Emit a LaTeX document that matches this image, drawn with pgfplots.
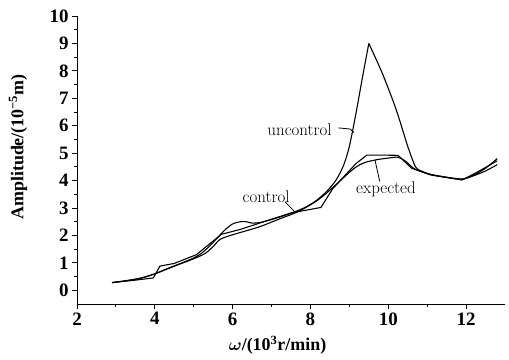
\documentclass[border=0pt]{standalone}
\usepackage{pgfplots}
\pgfplotsset{compat=1.18}
\usepackage{fontspec}
\newfontfamily\timesfont{Liberation Serif}
\begin{document}
\begin{tikzpicture}[x=1bp,y=1bp]
\path[use as bounding box] (-77,-55) rectangle (432,304);
\begin{axis}[
  at={(0,0)}, anchor=south west,
  scale only axis, width=428bp, height=288bp,
  xmin=2, xmax=13, ymin=-0.5, ymax=10,
  axis x line*=bottom, axis y line*=left,
  axis line style={-, line width=0.9pt},
  xtick={2,4,...,12}, ytick={0,1,...,10},
  minor x tick num=1, minor y tick num=1,
  tick align=outside, major tick length=5bp, minor tick length=3bp,
  tick style={black, line width=0.9pt},
  /pgf/number format/assume math mode=true,
  ticklabel style={font=\fontsize{19}{19}\selectfont\timesfont\bfseries},
  xlabel={{\boldmath$\omega$}/(10\textsuperscript{3}r/min)},
  ylabel={Amplitude/(10\textsuperscript{−5}m)},
  label style={font=\fontsize{18}{18}\selectfont\timesfont\bfseries},
  xlabel style={at={(axis description cs:0.4685,-0.142)}, anchor=center},
  ylabel style={at={(axis description cs:-0.138,0.545)}, anchor=center},
  clip=false,
]
% uncontrol (rising part)
\addplot[black, line width=1.1pt, smooth, tension=0.45] coordinates {
(2.9,0.28)(3.3,0.36)(3.7,0.46)(4.0,0.6)(4.3,0.78)(4.7,1.0)(5.0,1.18)(5.2,1.35)(5.4,1.6)(5.6,1.9)(5.8,2.2)(6.0,2.42)(6.2,2.5)(6.35,2.5)(6.5,2.45)(6.7,2.47)(7.0,2.58)(7.4,2.76)(7.8,2.98)(8.1,3.22)(8.4,3.58)(8.65,4.0)(8.85,4.55)(9.0,5.25)(9.17,6.45)(9.34,7.79)(9.5,9.0)
};
% uncontrol (falling part)
\addplot[black, line width=1.1pt, smooth, tension=0.45] coordinates {
(9.5,9.0)(9.85,7.9)(10.2,6.6)(10.5,5.25)(10.7,4.5)(10.85,4.35)(11.1,4.22)(11.5,4.12)(11.9,4.05)(12.2,4.2)(12.5,4.45)(12.8,4.8)
};
% expected
\addplot[black, line width=1.1pt, smooth, tension=0.5] coordinates {
(2.9,0.28)(3.5,0.4)(4.0,0.6)(4.5,0.88)(5.0,1.15)(5.3,1.35)(5.5,1.6)(5.67,1.85)(5.9,1.98)(6.18,2.1)(6.7,2.32)(7.2,2.6)(7.7,2.88)(8.2,3.3)(8.6,3.78)(9.0,4.3)(9.2,4.52)(9.4,4.66)(9.7,4.76)(10.0,4.82)(10.25,4.85)(10.45,4.7)(10.65,4.45)(10.9,4.3)(11.1,4.22)(11.5,4.12)(11.9,4.06)(12.2,4.18)(12.5,4.35)(12.8,4.58)
};
% control
\addplot[black, line width=1.1pt] coordinates {
(2.9,0.28)(3.5,0.37)(3.96,0.45)(4.13,0.88)(4.5,0.98)(5.07,1.3)(5.71,2.04)(6.2,2.22)(6.8,2.5)(7.5,2.82)(8.27,3.02)(8.57,3.7)(9.17,4.62)(9.45,4.93)(9.77,4.93)(10.25,4.92)(10.6,4.45)(11.1,4.2)(11.9,4.02)(12.3,4.32)(12.8,4.72)
};
\node[font=\fontsize{17}{17}\selectfont] at (axis cs:7.72,5.85) {uncontrol};
\draw[line width=0.8pt] (axis cs:8.72,5.92) -- (axis cs:9.02,5.88) -- (axis cs:9.12,5.75);
\node[font=\fontsize{17}{17}\selectfont] at (axis cs:6.86,3.42) {control};
\draw[line width=0.8pt] (axis cs:7.35,3.22) -- (axis cs:7.6,2.86);
\node[font=\fontsize{17}{17}\selectfont] at (axis cs:9.94,3.7) {expected};
\draw[line width=0.8pt] (axis cs:9.78,3.97) -- (axis cs:9.66,4.74);
\end{axis}
\end{tikzpicture}
\end{document}
